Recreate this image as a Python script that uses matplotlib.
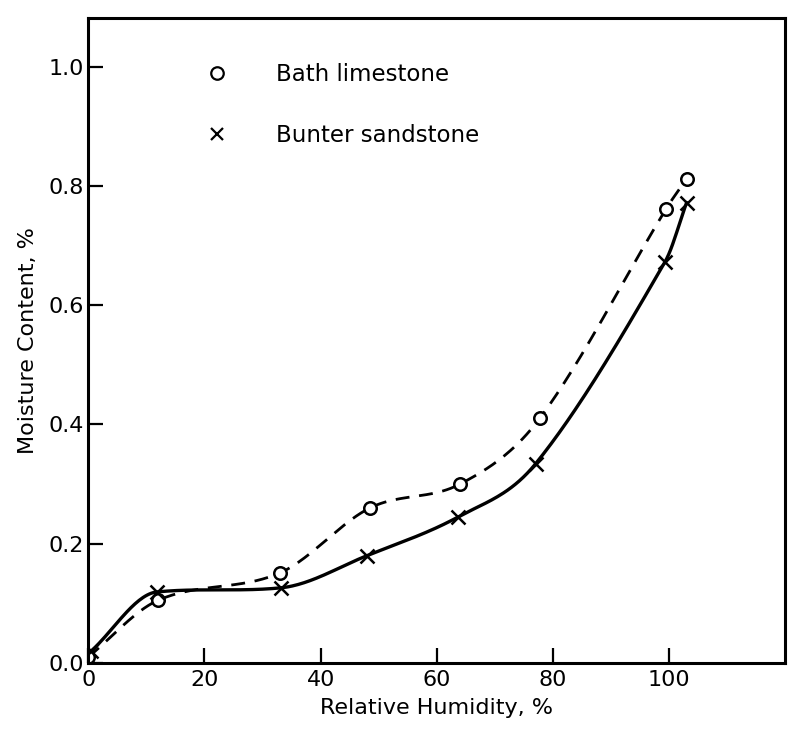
import numpy as np
import matplotlib
matplotlib.use("Agg")
import matplotlib.pyplot as plt
from matplotlib.lines import Line2D

# values
bath_rh = [0, 12, 33, 48.5, 64, 77.7, 99.5, 103]
bath_mc = [0.01, 0.105, 0.151, 0.26, 0.30, 0.41, 0.762, 0.812]
bunter_rh = [0.5, 11.8, 33.2, 48, 63.7, 77, 99.3, 103]
bunter_mc = [0.02, 0.119, 0.126, 0.18, 0.245, 0.334, 0.673, 0.772]

x_ticks = [0, 20, 40, 60, 80, 100]
y_ticks = [0.0, 0.2, 0.4, 0.6, 0.8, 1.0]
y_ticklabels = ["0.0", "0.2", "0.4", "0.6", "0.8", "1.0"]


def smooth(x, y, n=300):
    # cubic hermite curve through the points (limited catmull-rom slopes)
    x = np.asarray(x, float)
    y = np.asarray(y, float)
    h = np.diff(x)
    d = np.diff(y) / h
    m = np.zeros_like(y)
    m[0], m[-1] = d[0], d[-1]
    for k in range(1, len(x) - 1):
        cr = (y[k + 1] - y[k - 1]) / (x[k + 1] - x[k - 1])
        if d[k - 1] * d[k] > 0:
            m[k] = np.sign(cr) * min(abs(cr), 3 * abs(d[k - 1]), 3 * abs(d[k]))
    xs = np.linspace(x[0], x[-1], n)
    i = np.clip(np.searchsorted(x, xs) - 1, 0, len(x) - 2)
    t = (xs - x[i]) / h[i]
    h00 = 2 * t**3 - 3 * t**2 + 1
    h10 = t**3 - 2 * t**2 + t
    h01 = -2 * t**3 + 3 * t**2
    h11 = t**3 - t**2
    ys = h00 * y[i] + h10 * h[i] * m[i] + h01 * y[i + 1] + h11 * h[i] * m[i + 1]
    return xs, ys


plt.rcParams["font.family"] = ["DejaVu Sans"]

fig = plt.figure(figsize=(8.03, 7.44), dpi=100)
ax = fig.add_axes([0.110, 0.109, 0.868, 0.867])

bx, by = smooth(bath_rh, bath_mc)
sx, sy = smooth(bunter_rh, bunter_mc)
ax.plot(bx, by, color="black", lw=2.0, ls=(0, (5, 3.5)))
ax.plot(sx, sy, color="black", lw=2.4)
ax.plot(bath_rh, bath_mc, ls="none", marker="o", ms=9, mfc="white",
        mec="black", mew=1.8)
ax.plot(bunter_rh, bunter_mc, ls="none", marker="x", ms=10, color="black",
        mew=1.8)

ax.set_xlim(0, 120)
ax.set_ylim(0, 1.082)
ax.set_xticks(x_ticks)
ax.set_yticks(y_ticks)
ax.set_yticklabels(y_ticklabels)
ax.tick_params(direction="in", length=11, width=1.6, labelsize=16)
ax.tick_params(axis="x", pad=5)
ax.tick_params(axis="y", pad=3)
for s in ax.spines.values():
    s.set_linewidth(2.2)

ax.set_xlabel("Relative Humidity, %", fontsize=16, labelpad=6)
ax.set_ylabel("Moisture Content, %", fontsize=16, labelpad=8)

handles = [
    Line2D([], [], ls="none", marker="o", ms=9, mfc="white", mec="black", mew=1.6),
    Line2D([], [], ls="none", marker="x", ms=9, color="black", mew=1.6),
]
ax.legend(handles, ["Bath limestone", "Bunter sandstone"], loc="upper left",
          bbox_to_anchor=(0.122, 0.962), frameon=False, fontsize=16.5,
          handletextpad=1.6, labelspacing=1.65)

fig.savefig("out.png", dpi=100)
